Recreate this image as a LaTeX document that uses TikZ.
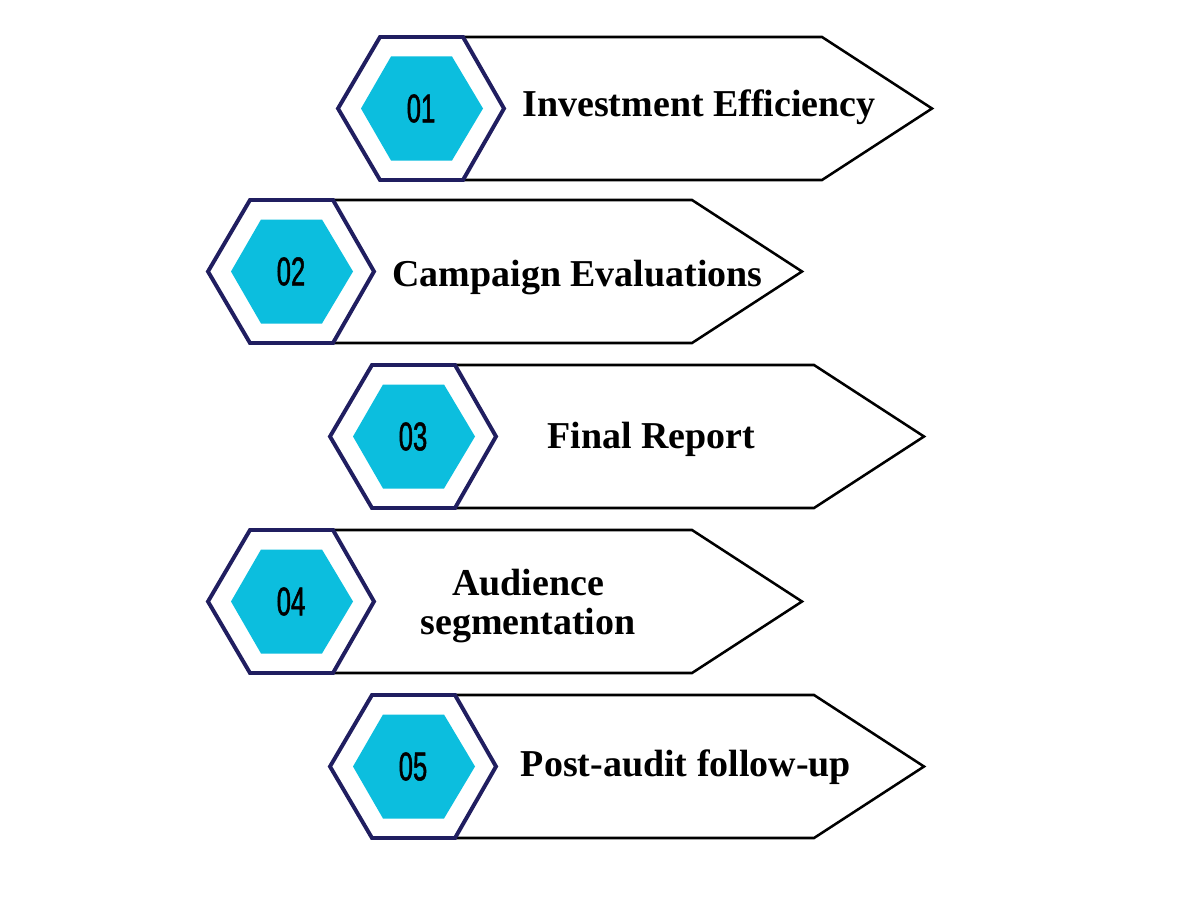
\documentclass[tikz,border=0pt]{standalone}
\usepackage{fontspec}
\setmainfont{Liberation Serif}
\newfontfamily\numfont[FakeStretch=0.64,FakeBold=1.2]{Liberation Sans}
\definecolor{navy}{RGB}{32,30,96}
\definecolor{hexcyan}{RGB}{12,190,222}
\tikzset{
  arrowbox/.style={draw=black, line width=1.8pt, fill=white, line join=miter},
  outerhex/.style={draw=navy, line width=2.8pt, fill=white, line join=miter},
  innerhex/.style={fill=hexcyan},
  numlabel/.style={font=\numfont\fontsize{28.5}{30}\selectfont, inner sep=0pt},
  steplabel/.style={font=\bfseries\fontsize{27}{28.3}\selectfont, align=center, inner sep=0pt},
}
\begin{document}
\begin{tikzpicture}[x=0.025cm, y=-0.025cm]
\useasboundingbox (0,0) rectangle (1200,900);
\foreach \n/\cx/\cy/\tx/\ty/\anc/\txt in {
  01/421/108.5/699/116/base/{Investment Efficiency},
  02/291/271.5/577.5/286/base/{Campaign Evaluations},
  03/413/436.5/651.5/448/base/{Final Report},
  04/291/601.5/528/606/center/{Audience\\segmentation},
  05/413/766.5/686/776/base/{Post-audit follow-up}}{
  % arrow body
  \draw[arrowbox] (\cx+42,\cy-71.5) -- (\cx+401,\cy-71.5) -- (\cx+511,\cy)
     -- (\cx+401,\cy+71.5) -- (\cx+42,\cy+71.5);
  % outer hexagon
  \draw[outerhex] (\cx-83,\cy) -- (\cx-41,\cy-71.5) -- (\cx+42,\cy-71.5)
     -- (\cx+83,\cy) -- (\cx+42,\cy+71.5) -- (\cx-41,\cy+71.5) -- cycle;
  % inner hexagon
  \fill[innerhex] (\cx-60,\cy) -- (\cx-30,\cy-52) -- (\cx+31,\cy-52)
     -- (\cx+62,\cy) -- (\cx+31,\cy+52) -- (\cx-30,\cy+52) -- cycle;
  \node[numlabel] (num\n) at (\cx,\cy) {\n};
  \node[steplabel, anchor=\anc] (lab\n) at (\tx,\ty) {\txt};
}
\end{tikzpicture}
\end{document}
